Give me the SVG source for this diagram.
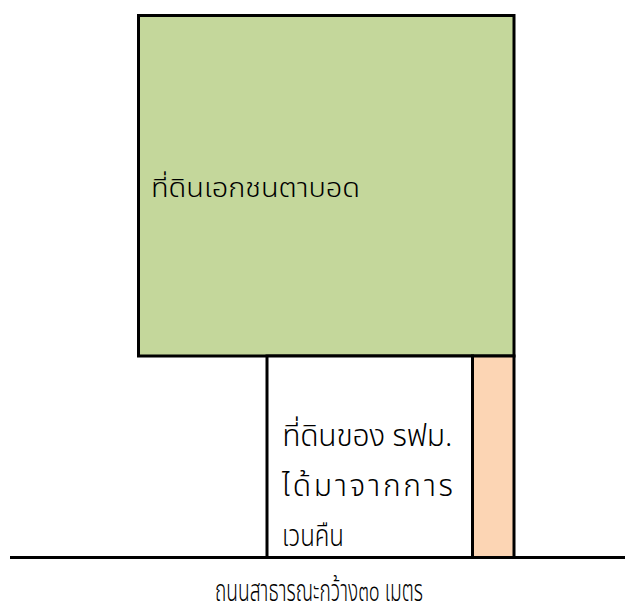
<svg xmlns="http://www.w3.org/2000/svg" width="635" height="616" viewBox="0 0 635 616">
<style>
.ln{stroke:#000;stroke-width:3}
.t{font-family:"Noto Sans Thai","Tahoma","Noto Sans","DejaVu Sans",sans-serif;fill:#000;font-weight:300}
</style>
<rect width="635" height="616" fill="#fff"/>
<g id="private-land">
<rect x="138.5" y="15.5" width="375.5" height="340.5" style="fill:#C4D79B" class="ln"/>
<text class="t" x="151" y="197" font-size="26" textLength="209" lengthAdjust="spacingAndGlyphs">ที่ดินเอกชนตาบอด</text>
</g>
<g id="mrta-land">
<rect x="267" y="356" width="205.5" height="201.5" style="fill:#fff" class="ln"/>
<text class="t" x="282" y="446" font-size="30" textLength="170" lengthAdjust="spacing">ที่ดินของ รฟม.</text>
<text class="t" x="282" y="496" font-size="30" textLength="171" lengthAdjust="spacing">ได้มาจากการ</text>
<text class="t" x="282" y="546" font-size="30" textLength="62" lengthAdjust="spacingAndGlyphs">เวนคืน</text>
</g>
<g id="strip">
<rect x="472.5" y="356" width="41.5" height="201.5" style="fill:#FCD5B4" class="ln"/>
</g>
<g id="connectors">
<line x1="10" y1="557.5" x2="625" y2="557.5" class="ln"/>
</g>
<g id="road">
<text class="t" x="215" y="601" font-size="30" textLength="208" lengthAdjust="spacingAndGlyphs">ถนนสาธารณะกว้าง๓๐ เมตร</text>
</g>
</svg>
